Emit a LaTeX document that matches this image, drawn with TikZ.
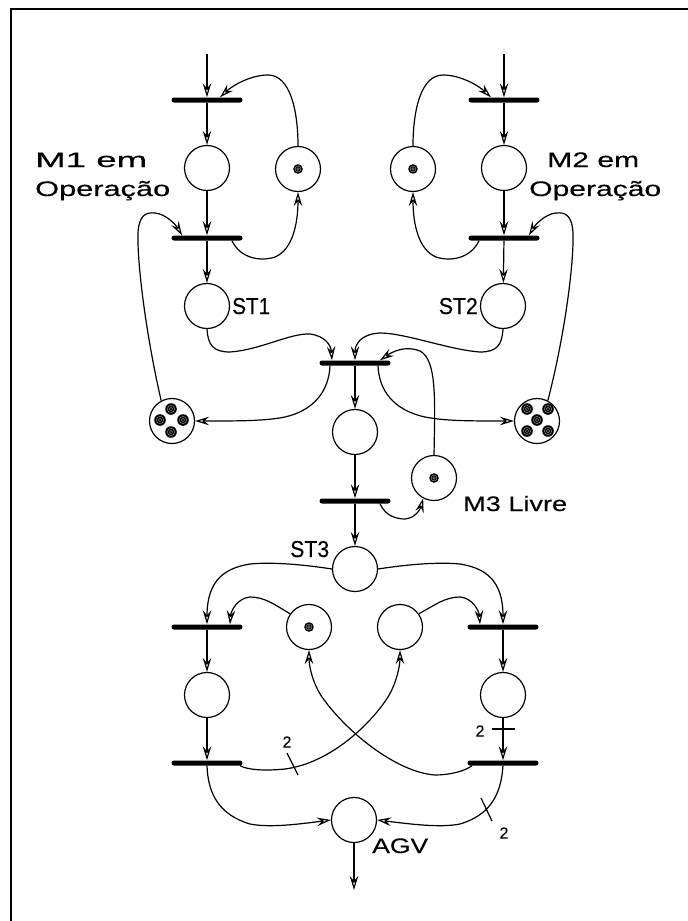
\documentclass[tikz,border=0pt]{standalone}
\usepackage{fontspec}
\setmainfont{Liberation Sans}[FakeBold=0.3]
\usetikzlibrary{arrows.meta}
\newcommand\wtxt[2]{\resizebox{#1pt}{\height}{#2}}
\begin{document}
\begin{tikzpicture}[x=1pt,y=-1pt,
  place/.style={draw, circle, minimum size=45pt, inner sep=0pt, line width=1.2pt},
  trans/.style={fill=black, rounded corners=2.5pt, minimum width=71pt, minimum height=5pt, inner sep=0pt},
  arc/.style={line width=1.2pt, -{Stealth[open,length=14pt,width=8.5pt,inset=5pt]}},
  lab/.style={font=\fontsize{21}{21}\selectfont, inner sep=0pt},
  stlab/.style={font=\fontsize{23}{23}\selectfont, inner sep=0pt},
  wlab/.style={font=\fontsize{16}{16}\selectfont, inner sep=0pt},
  tick/.style={line width=1.2pt},
]
\useasboundingbox (0,0) rectangle (688,921);
\draw[line width=2pt] (11,921) -- (11,9) -- (688,9);

% transitions
\node[trans] (t1)  at (207,100) {};
\node[trans] (t2)  at (207,238) {};
\node[trans] (t1b) at (504,100) {};
\node[trans] (t2b) at (504,238) {};
\node[trans] (t3)  at (355,363) {};
\node[trans] (t4)  at (355,501) {};
\node[trans] (t5)  at (207,627) {};
\node[trans] (t6)  at (503,627) {};
\node[trans] (t7)  at (207,763) {};
\node[trans] (t8)  at (503,763) {};

% places
\node[place] (pM1)  at (207,168) {};
\node[place] (pR1)  at (298,169) {};
\node[place] (pST1) at (207,306) {};
\node[place] (pM2)  at (504,168) {};
\node[place] (pR2)  at (413,169) {};
\node[place] (pST2) at (503,306) {};
\node[place] (pRes1) at (172,421) {};
\node[place] (pRes2) at (537,421) {};
\node[place] (pMid) at (355,432) {};
\node[place] (pM3)  at (434,478) {};
\node[place] (pST3) at (355,569) {};
\node[place] (pA)   at (309,627) {};
\node[place] (pB)   at (400,627) {};
\node[place] (pL)   at (207,695) {};
\node[place] (pR)   at (503,695) {};
\node[place] (pAGV) at (354,820) {};

% tokens
\foreach \c/\r in {{(298,169)}/4.8, {(413,169)}/4.8, {(434,478)}/4.8, {(309,627)}/4.8,
  {(171,409)}/5.8, {(160,420)}/5.8, {(183,420)}/5.8, {(171,432)}/5.8,
  {(527,409)}/5.8, {(548,409)}/5.8, {(537,420)}/5.8, {(527,431)}/5.8, {(548,431)}/5.8}{
  \fill \c circle (\r);
  \draw[gray!60, line width=0.35pt] \c circle ({\r*0.62});
  \draw[gray!60, line width=0.35pt] \c circle ({\r*0.3});
}

% free ends
\coordinate (in1) at (207,54);
\coordinate (in2) at (504,54);
\coordinate (out) at (354,890);

% left top module
\draw[arc] (in1) -- (t1);
\draw[arc] (t1) -- (pM1);
\draw[arc] (pM1) -- (t2);
\draw[arc] (t2) -- (pST1);
\draw[arc] (pR1.north) .. controls (298,110) and (290,75) .. (268,75)
  .. controls (250,75) and (232,86) .. ([xshift=13pt]t1.north);
\draw[arc] ([xshift=25pt]t2.south) .. controls (240,258) and (260,262) .. (275,257)
  .. controls (292,250) and (298,225) .. (pR1.south);
\draw[arc] (pRes1.118) .. controls (145,330) and (137,260) .. (138,233)
  .. controls (139,215) and (146,212) .. (155,213)
  .. controls (166,214) and (176,225) .. ([xshift=-25pt]t2.north);

% right top module
\draw[arc] (in2) -- (t1b);
\draw[arc] (t1b) -- (pM2);
\draw[arc] (pM2) -- (t2b);
\draw[arc] (t2b) -- (pST2);
\draw[arc] (pR2.north) .. controls (413,110) and (421,75) .. (443,75)
  .. controls (461,75) and (479,86) .. ([xshift=-13pt]t1b.north);
\draw[arc] ([xshift=-25pt]t2b.south) .. controls (471,258) and (451,262) .. (436,257)
  .. controls (419,250) and (413,225) .. (pR2.south);
\draw[arc] (pRes2.62) .. controls (566,330) and (574,260) .. (573,233)
  .. controls (572,215) and (565,212) .. (556,213)
  .. controls (545,214) and (535,225) .. ([xshift=25pt]t2b.north);

% middle
\draw[arc] (pST1.south) .. controls (208,345) and (213,352) .. (230,352)
  .. controls (260,350) and (290,333) .. (310,334)
  .. controls (325,336) and (331,345) .. ([xshift=-23pt]t3.north);
\draw[arc] (pST2.south) .. controls (502,345) and (497,352) .. (480,352)
  .. controls (450,350) and (405,333) .. (380,333)
  .. controls (360,334) and (355,345) .. (t3.north);
\draw[arc] (t3) -- (pMid);
\draw[arc] ([xshift=-25pt]t3.south) .. controls (329,390) and (315,410) .. (285,417)
  .. controls (265,421) and (240,421) .. (pRes1.east);
\draw[arc] ([xshift=23pt]t3.south) .. controls (379,390) and (393,410) .. (425,417)
  .. controls (445,421) and (470,421) .. (pRes2.west);
\draw[arc] (pM3.north) .. controls (435,400) and (437,360) .. (420,351)
  .. controls (405,345) and (392,352) .. ([xshift=25pt]t3.north);
\draw[arc] (pMid) -- (t4);
\draw[arc] (t4) -- (pST3);
\draw[arc] ([xshift=25pt]t4.south) .. controls (385,515) and (395,519) .. (405,519)
  .. controls (415,518) and (420,510) .. (pM3.242);

% lower module
\draw[arc] (pST3.west) .. controls (300,564) and (270,562) .. (250,564)
  .. controls (225,568) and (207,580) .. (t5.north);
\draw[arc] (pST3.east) .. controls (410,564) and (440,562) .. (460,564)
  .. controls (485,568) and (503,580) .. (t6.north);
\draw[arc] (pA.145) .. controls (275,605) and (265,597) .. (250,597)
  .. controls (238,598) and (231,610) .. ([xshift=23pt]t5.north);
\draw[arc] (pB.35) .. controls (435,605) and (445,597) .. (460,597)
  .. controls (472,598) and (479,610) .. ([xshift=-23pt]t6.north);
\draw[arc] (t5) -- (pL);
\draw[arc] (pL) -- (t7);
\draw[arc] (t6) -- (pR);
\draw[arc] (pR) -- (t8);
\draw[arc] ([xshift=33pt]t7.south) .. controls (248,770) and (265,771) .. (285,769)
  .. controls (330,763) and (370,725) .. (388,697)
  .. controls (397,682) and (400,665) .. (pB.south);
\draw[arc] ([xshift=-31pt]t8.south) .. controls (465,771) and (450,775) .. (435,775)
  .. controls (395,772) and (345,730) .. (322,697)
  .. controls (312,682) and (309,665) .. (pA.south);
\draw[arc] (t7.south) .. controls (208,795) and (220,815) .. (250,824)
  .. controls (270,828) and (300,824) .. (pAGV.west);
\draw[arc] (t8.south) .. controls (501,795) and (490,815) .. (460,824)
  .. controls (440,828) and (410,824) .. (pAGV.east);
\draw[arc] (pAGV) -- (out);

% weights
\draw[tick] (287,753) -- (298,775);
\draw[tick] (492,729) -- (515,729);
\draw[tick] (481,798) -- (492,821);
\node[wlab] (w1) at (287,742) {2};
\node[wlab] (w2) at (480,731) {2};
\node[wlab] (w3) at (504,833) {2};

% labels
\node[lab, anchor=base west] (l1a) at (35,167) {\wtxt{112}{M1 em}};
\node[lab, anchor=base west] (l1b) at (35,196) {\wtxt{135}{Operação}};
\node[lab, anchor=base west] (l2a) at (547,167) {\wtxt{92}{M2 em}};
\node[lab, anchor=base west] (l2b) at (529,196) {\wtxt{132}{Operação}};
\node[stlab, anchor=base west] (lst1) at (232,314) {\wtxt{38}{ST1}};
\node[stlab, anchor=base east] (lst2) at (478,314) {\wtxt{39}{ST2}};
\node[stlab, anchor=base west] (lst3) at (290,557) {\wtxt{39}{ST3}};
\node[lab, anchor=base west] (lm3) at (463,511) {\wtxt{104}{M3 Livre}};
\node[lab, anchor=base west] (lagv) at (372,853) {\wtxt{56}{AGV}};
\end{tikzpicture}
\end{document}
